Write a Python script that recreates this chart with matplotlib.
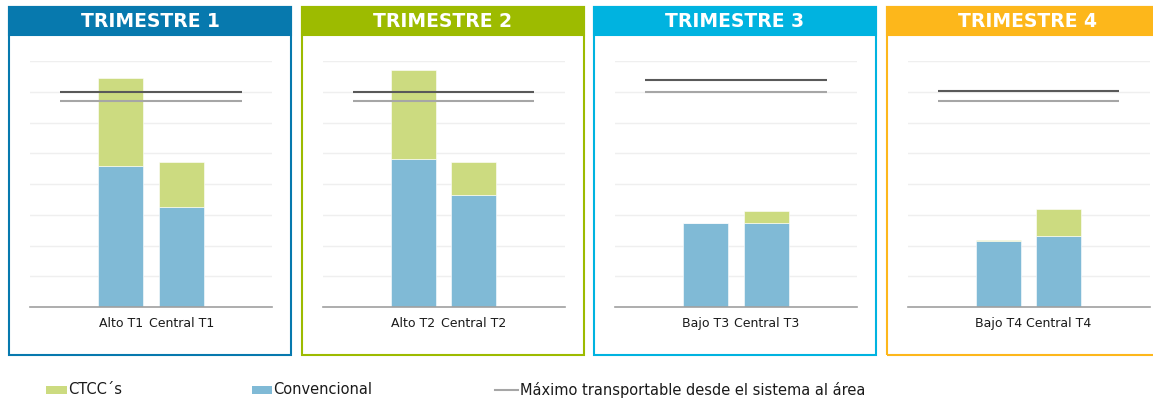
import matplotlib
matplotlib.use("Agg")
import matplotlib.pyplot as plt
from matplotlib.patches import Rectangle
from matplotlib.lines import Line2D

# ---- data (MW) ----
titulos = ["TRIMESTRE 1", "TRIMESTRE 2", "TRIMESTRE 3", "TRIMESTRE 4"]
colores_trimestre = ["#0779AE", "#9DBB00", "#00B3E0", "#FDB71B"]
escenarios = [["Alto T1", "Central T1"],
              ["Alto T2", "Central T2"],
              ["Bajo T3", "Central T3"],
              ["Bajo T4", "Central T4"]]
convencional = [[4600, 3260],
                [4820, 3630],
                [2720, 2740],
                [2150, 2310]]
ctcc = [[2860, 1470],
        [2900, 1100],
        [20, 390],
        [30, 870]]
limite_red = [7000, 7000, 7390, 7030]
maximo_transportable = [6700, 6700, 7000, 6700]

COLOR_CONV = "#80BAD6"
COLOR_CTCC = "#CCDB80"
COLOR_MAX = "#A6A6A6"
COLOR_LIM = "#595959"

W, H = 1153, 399
fig = plt.figure(figsize=(W / 100, H / 100), dpi=100)
fig.patch.set_facecolor("white")


def fx(px):
    return px / W


def fy(py):
    return 1 - py / H


panel_w = 282
for i in range(4):
    left = 9 + 292.5 * i
    color = colores_trimestre[i]

    # panel frame and header band
    fig.patches.append(Rectangle((fx(left), fy(355)), panel_w / W, 348 / H,
                                 transform=fig.transFigure, fill=False,
                                 edgecolor=color, linewidth=1.5, zorder=0))
    fig.patches.append(Rectangle((fx(left), fy(35)), panel_w / W, 28 / H,
                                 transform=fig.transFigure, facecolor=color,
                                 edgecolor=color, linewidth=1.5, zorder=0))
    fig.text(fx(left + panel_w / 2), fy(21.5), titulos[i], color="white",
             fontsize=13.5, fontweight="bold", ha="center", va="center",
             family="DejaVu Sans")

    ax = fig.add_axes([fx(left + 21), fy(307), 242 / W, 246 / H])
    x = [1, 2]
    ax.bar(x, convencional[i], width=0.74, color=COLOR_CONV,
           edgecolor="white", linewidth=0.4, zorder=2)
    ax.bar(x, ctcc[i], width=0.74, bottom=convencional[i], color=COLOR_CTCC,
           edgecolor="white", linewidth=0.4, zorder=2)
    ax.hlines(limite_red[i], 0, 3, color=COLOR_LIM, linewidth=1.5, zorder=3)
    ax.hlines(maximo_transportable[i], 0, 3, color=COLOR_MAX, linewidth=1.5,
              zorder=3)

    ax.set_xlim(-0.5, 3.5)
    ax.set_ylim(0, 8000)
    ax.set_yticks(range(0, 8001, 1000))
    ax.set_yticklabels([])
    ax.yaxis.grid(True, color="#EFEFEF", linewidth=1)
    ax.set_axisbelow(True)
    ax.tick_params(axis="y", length=0)
    ax.set_xticks(x)
    ax.set_xticklabels(escenarios[i], fontsize=9, color="#1A1A1A",
                       family="DejaVu Sans")
    ax.tick_params(axis="x", length=0, pad=7)
    for s in ["left", "right", "top"]:
        ax.spines[s].set_visible(False)
    ax.spines["bottom"].set_color("#A0A0A0")
    ax.spines["bottom"].set_linewidth(1.2)
    ax.patch.set_alpha(0)

# ---- legend ----
leg_y = 390
leg_font = dict(fontsize=10.5, color="#1A1A1A", va="center", ha="left",
                family="DejaVu Sans")
fig.patches.append(Rectangle((fx(46), fy(394)), 21 / W, 8 / H,
                             transform=fig.transFigure, facecolor=COLOR_CTCC,
                             edgecolor="none"))
fig.text(fx(68.5), fy(leg_y), "CTCC´s", **leg_font)
fig.patches.append(Rectangle((fx(252), fy(394)), 20 / W, 8 / H,
                             transform=fig.transFigure, facecolor=COLOR_CONV,
                             edgecolor="none"))
fig.text(fx(273.5), fy(leg_y), "Convencional", **leg_font)
fig.lines.append(Line2D([fx(495), fx(518)], [fy(leg_y), fy(leg_y)],
                        transform=fig.transFigure, color=COLOR_MAX,
                        linewidth=1.5))
fig.text(fx(520), fy(leg_y), "Máximo transportable desde el sistema al área",
         **leg_font)

fig.savefig("out.png", dpi=100)
